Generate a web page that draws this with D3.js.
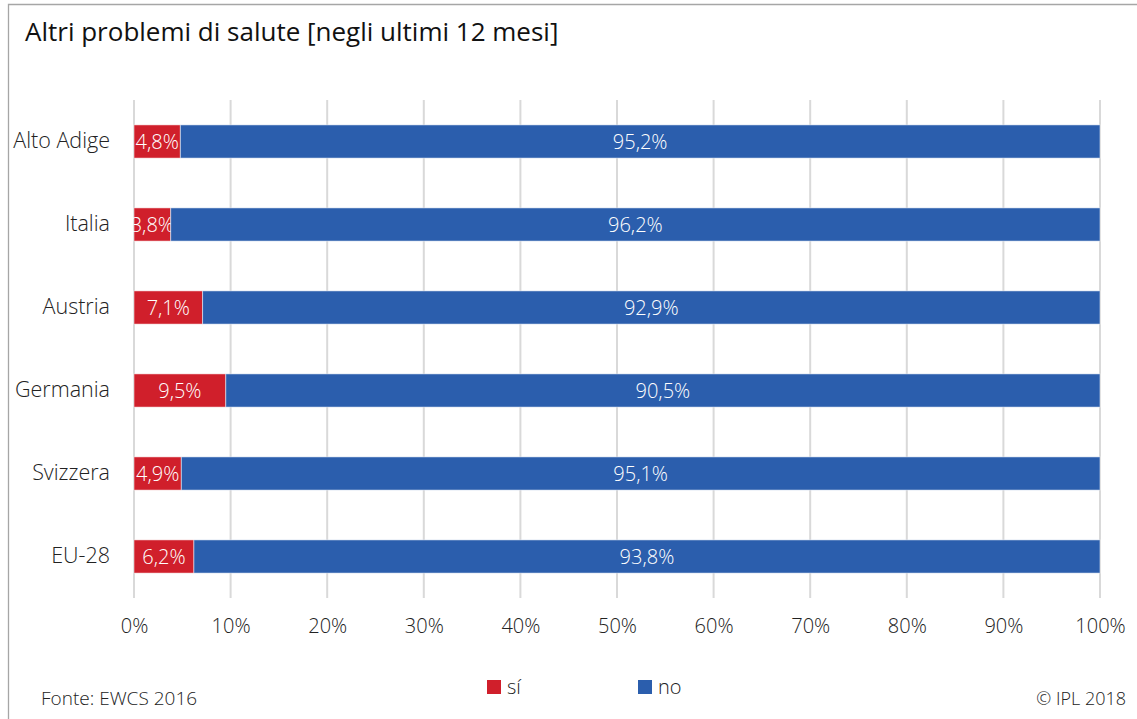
<!DOCTYPE html>
<html>
<head>
<meta charset="utf-8">
<script src="https://cdn.jsdelivr.net/npm/d3@7"></script>
<style>
  body { margin: 0; background: #fff; }
  text { font-family: "Source Sans Pro", "Open Sans", "Noto Sans", sans-serif; }
</style>
</head>
<body>
<script>
// chart data
const categories = ["Alto Adige", "Italia", "Austria", "Germania", "Svizzera", "EU-28"];
const siValues = [4.8, 3.8, 7.1, 9.5, 4.9, 6.2];
const noValues = [95.2, 96.2, 92.9, 90.5, 95.1, 93.8];
const seriesNames = ["sí", "no"];
const seriesColors = ["#d01f2b", "#2b5ead"];
const tickValues = [0, 10, 20, 30, 40, 50, 60, 70, 80, 90, 100];

const W = 1137, H = 719;
const fmt = v => d3.format(".1f")(v).replace(".", ",") + "%";

let svg = d3.select("body").append("svg")
  .attr("width", W)
  .attr("height", H);

// frame (top + left only)
svg.append("path")
  .attr("d", "M8.5," + H + " L8.5,4.5 L" + W + ",4.5")
  .attr("fill", "none")
  .attr("stroke", "#a6a6a6")
  .attr("stroke-width", 1.3);

svg.append("text")
  .attr("x", 25)
  .attr("y", 41)
  .attr("font-size", "26px")
  .attr("font-weight", 400)
  .attr("fill", "#111")
  .text("Altri problemi di salute [negli ultimi 12 mesi]");

const x = d3.scaleLinear().domain([0, 100]).range([134, 1100]);
const y = d3.scaleBand().domain(categories).range([100, 598]).paddingInner(0.6).paddingOuter(0.3);

// gridlines
svg.append("g")
  .selectAll("line")
  .data(tickValues)
  .enter()
    .append("line")
      .attr("x1", d => x(d))
      .attr("x2", d => x(d))
      .attr("y1", 100)
      .attr("y2", 598)
      .attr("stroke", "#d9d9d9")
      .attr("stroke-width", 2);

// x axis labels
const xAxis = svg.append("g")
  .attr("transform", "translate(0,598)")
  .call(d3.axisBottom(x).tickValues(tickValues).tickSize(0).tickPadding(21).tickFormat(d => d + "%"));
xAxis.select(".domain").remove();
xAxis.selectAll("text")
  .attr("font-size", "20px")
  .attr("font-weight", 300)
  .attr("fill", "#222");

// y axis labels
const yAxis = svg.append("g")
  .attr("transform", "translate(110,0)")
  .call(d3.axisLeft(y).tickSize(0).tickPadding(0));
yAxis.select(".domain").remove();
yAxis.selectAll("text")
  .attr("font-size", "21.5px")
  .attr("font-weight", 300)
  .attr("fill", "#222");

// stacked bars
const rows = categories.map((c, i) => ({ cat: c, si: siValues[i], no: noValues[i] }));
const stack = d3.stack().keys(["si", "no"])(rows);

const layers = svg.append("g")
  .selectAll("g")
  .data(stack)
  .enter()
    .append("g")
      .attr("fill", (d, i) => seriesColors[i]);

layers.selectAll("rect")
  .data(d => d)
  .enter()
    .append("rect")
      .attr("x", d => x(d[0]))
      .attr("width", d => x(d[1]) - x(d[0]))
      .attr("y", d => y(d.data.cat))
      .attr("height", y.bandwidth())
      .attr("stroke", "rgba(255,255,255,0.5)")
      .attr("stroke-width", 1);

layers.selectAll("text")
  .data(d => d)
  .enter()
    .append("text")
      .attr("x", d => (x(d[0]) + x(d[1])) / 2)
      .attr("y", d => y(d.data.cat) + y.bandwidth() / 2)
      .attr("dy", "0.35em")
      .attr("text-anchor", "middle")
      .attr("font-size", "20px")
      .attr("font-weight", 300)
      .attr("fill", "#fff")
      .text(d => fmt(d[1] - d[0]));

// legend
const legend = svg.append("g")
  .selectAll("g")
  .data(seriesNames)
  .enter()
    .append("g")
      .attr("transform", (d, i) => "translate(" + (487 + i * 151) + ",680)");
legend.append("rect")
  .attr("width", 14)
  .attr("height", 14)
  .attr("fill", (d, i) => seriesColors[i]);
legend.append("text")
  .attr("x", 20)
  .attr("y", 14)
  .attr("font-size", "20px")
  .attr("font-weight", 300)
  .attr("fill", "#222")
  .text(d => d);

// footer
svg.append("text")
  .attr("x", 41)
  .attr("y", 705)
  .attr("font-size", "19px")
  .attr("font-weight", 300)
  .attr("fill", "#222")
  .text("Fonte: EWCS 2016");

svg.append("text")
  .attr("x", 1126)
  .attr("y", 705)
  .attr("text-anchor", "end")
  .attr("font-size", "18px")
  .attr("font-weight", 300)
  .attr("fill", "#222")
  .text("© IPL 2018");
</script>
</body>
</html>
